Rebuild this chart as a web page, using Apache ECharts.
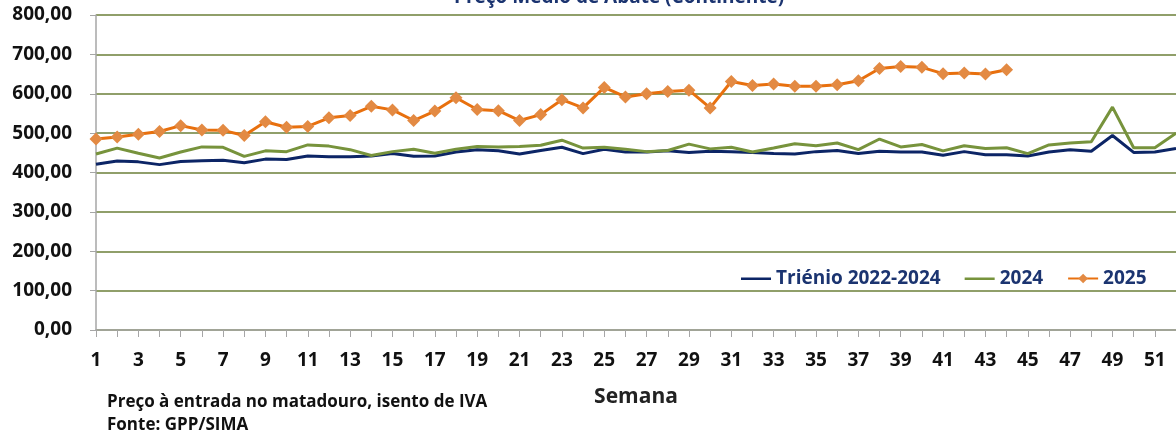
<!DOCTYPE html>
<html>
<head>
<meta charset="utf-8">
<script src="https://cdn.jsdelivr.net/npm/echarts@6/dist/echarts.min.js"></script>
<style>
  html, body { margin: 0; padding: 0; background: #fff; }
  #grafico { width: 1176px; height: 438px; }
</style>
</head>
<body>
<div id="grafico"></div>
<script>
// semanas 1..52
const semanas = [];
for (let s = 1; s <= 52; s++) semanas.push(String(s));

const trienio = [421, 429, 427, 420, 428, 430, 431, 425, 434, 433, 442, 440, 440, 442, 448, 441, 442, 452, 458, 455,
                 447, 456, 464, 448, 459, 452, 452, 455, 451, 454, 453, 451, 448, 447, 453, 456, 448, 454, 452, 452,
                 444, 453, 445, 445, 442, 452, 458, 454, 494, 451, 452, 461];
const ano2024 = [447, 462, 449, 437, 452, 465, 464, 441, 455, 453, 470, 467, 458, 443, 453, 459, 449, 459, 466, 465,
                 466, 469, 482, 462, 464, 459, 453, 456, 472, 460, 464, 452, 462, 473, 468, 475, 458, 485, 465, 471,
                 455, 468, 461, 463, 448, 470, 475, 478, 566, 463, 463, 500];
const ano2025 = [485, 490, 497, 504, 519, 508, 507, 494, 529, 515, 517, 539, 545, 568, 559, 532, 556, 590, 560, 557,
                 532, 547, 585, 564, 616, 592, 600, 606, 609, 564, 631, 621, 625, 619, 619, 623, 633, 664, 669, 667,
                 651, 653, 650, 661];

const nomes = ['Triénio 2022-2024', '2024', '2025'];
const fonte = 'Open Sans';
const azul = '#1B3470';
// legenda so com a linha (sem simbolo) para as series sem marcadores
const iconeLinha = 'path://M0,0 L0.01,0 M0,5 L30,5 L30,7.5 L0,7.5 Z M0,12 L0.01,12';

const chart = echarts.init(document.getElementById('grafico'));
chart.setOption({
    animation: false,
    title: {
        text: 'Preço Médio de Abate (Continente)',
        left: 449,
        top: -17,
        textStyle: {fontFamily: fonte, fontSize: 19, fontWeight: 'bold', color: azul}
    },
    legend: {
        data: [
            {name: nomes[0], icon: iconeLinha, itemStyle: {color: '#0C2566'}},
            {name: nomes[1], icon: iconeLinha, itemStyle: {color: '#77933C'}},
            {name: nomes[2]}
        ],
        left: 736,
        top: 264,
        itemWidth: 30,
        itemHeight: 12,
        itemGap: 24,
        textStyle: {fontFamily: fonte, fontSize: 19, fontWeight: 'bold', color: azul}
    },
    grid: {left: 96, top: 15, height: 315, width: 1084},
    xAxis: {
        type: 'category',
        data: semanas,
        boundaryGap: false,
        name: 'Semana',
        nameLocation: 'middle',
        nameGap: 57,
        nameTextStyle: {fontFamily: fonte, fontSize: 21, fontWeight: 'bold', color: '#222'},
        axisLine: {lineStyle: {color: '#a6a6a6', width: 1.5}},
        axisTick: {interval: 0, length: 7, lineStyle: {color: '#a6a6a6'}},
        axisLabel: {interval: 1, margin: 21, fontFamily: fonte, fontSize: 19, fontWeight: 'bold', color: '#111'},
        splitLine: {show: false}
    },
    yAxis: {
        type: 'value',
        min: 0,
        max: 800,
        interval: 100,
        axisLine: {show: true, lineStyle: {color: '#a6a6a6', width: 1.5}},
        axisTick: {show: true, length: 6, lineStyle: {color: '#a6a6a6'}},
        axisLabel: {
            margin: 24, fontFamily: fonte, fontSize: 19, fontWeight: 'bold', color: '#111',
            formatter: v => v.toFixed(2).replace('.', ',')
        },
        splitLine: {lineStyle: {color: '#6b7f38', width: 1.5}}
    },
    series: [
        {
            name: nomes[0], type: 'line', data: trienio, symbol: 'none',
            lineStyle: {color: '#0C2566', width: 3}, itemStyle: {color: '#0C2566'}
        },
        {
            name: nomes[1], type: 'line', data: ano2024, symbol: 'none',
            lineStyle: {color: '#77933C', width: 3}, itemStyle: {color: '#77933C'}
        },
        {
            name: nomes[2], type: 'line', data: ano2025, symbol: 'diamond', symbolSize: 13,
            lineStyle: {color: '#E8700E', width: 3}, itemStyle: {color: '#E38A43'}
        }
    ],
    graphic: [
        {type: 'text', left: 107, top: 394, style: {text: 'Preço à entrada no matadouro, isento de IVA', font: 'bold 17px "Open Sans"', fill: '#111'}},
        {type: 'text', left: 107, top: 417, style: {text: 'Fonte: GPP/SIMA', font: 'bold 17px "Open Sans"', fill: '#111'}}
    ]
});
</script>
</body>
</html>
